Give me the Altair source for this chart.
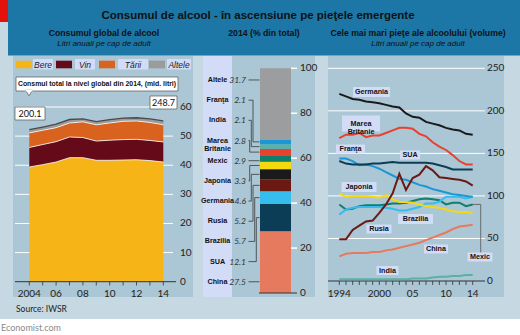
import altair as alt
import pandas as pd
import numpy as np

# ------------------------------------------------------------------ data
# Left panel: global consumption, litres per adult per year
years_global = list(range(2004, 2015))
beer    = [39.4, 40.2, 41.1, 42.6, 42.6, 41.7, 41.7, 41.8, 41.9, 41.6, 41.1]
wine    = [6.7, 6.9, 7.0, 7.1, 6.9, 6.6, 6.9, 7.0, 7.0, 6.9, 6.9]
spirits = [5.0, 4.9, 4.8, 4.8, 5.4, 5.6, 5.9, 6.3, 6.3, 6.2, 5.9]
other   = [1.1, 1.1, 1.2, 1.2, 1.0, 1.1, 1.2, 1.1, 1.1, 1.2, 1.3]
drink_names  = ["Bere", "Vin", "Tării", "Altele"]
drink_colors = ["#f6b417", "#640a18", "#d8621e", "#9b9b9b"]
total_volume_years  = [2004, 2014]
total_volume_labels = ["200.1", "248.7"]   # bn litres
left_y_ticks = [0, 10, 20, 30, 40, 50, 60]
left_x_ticks = [2004, 2006, 2008, 2010, 2012, 2014]
left_x_labels = ["2004", "06", "08", "10", "12", "14"]

# Middle panel: share of 2014 volume (%)
share_countries = ["China", "SUA", "Brazilia", "Rusia", "Germania", "Japonia",
                   "Mexic", "Marea Britanie", "India", "Franţa", "Altele"]
share_values = [27.5, 12.1, 5.7, 5.2, 4.6, 3.3, 2.9, 2.8, 2.1, 2.1, 31.7]
share_colors = ["#e57a5f", "#0b3d56", "#36bced", "#6a1a12", "#1a1a1a", "#f5d90f",
                "#0d7f6c", "#e8422e", "#5bb1a8", "#1b97d6", "#9c9d9f"]
mid_y_ticks = [0, 20, 40, 60, 80, 100]

# Right panel: largest markets, litres per adult
years_markets = list(range(1994, 2015))
market_series = {
    "India":          [2, 2, 2, 2, 2, 2, 2, 2, 2, 2, 2, 3, 3, 3, 4, 5, 5, 6, 6, 7, 7],
    "China":          [29, 32, 33, 33, 33, 34, 34, 36, 37, 39, 41, 43, 45, 48, 51, 54, 57, 61, 64, 65, 66],
    "Mexic":          [90, 84, 85, 88, 89, 89, 89, 90, 91, 91, 92, 94, 96, 97, 96, 95, 90, 92, 92, 88, 90],
    "Brazilia":       [78, 84, 86, 87, 87, 87, 87, 86, 85, 83, 83, 85, 87, 91, 91, 93, 99, 99, 99, 97, 99],
    "Japonia":        [103, 99, 100, 100, 100, 99, 98, 101, 96, 93, 93, 92, 90, 88, 87, 86, 84, 82, 81, 81, 80],
    "Franţa":         [144, 144, 141, 136, 137, 135, 132, 128, 124, 120, 119, 116, 113, 111, 108, 106, 104, 102, 101, 100, 99],
    "SUA":            [141, 138, 137, 137, 137, 138, 138, 139, 140, 139, 139, 139, 139, 139, 138, 136, 134, 131, 131, 131, 131],
    "Rusia":          [49, 49, 60, 65, 70, 71, 80, 90, 103, 126, 107, 121, 125, 135, 130, 122, 121, 120, 119, 117, 112],
    "Marea Britanie": [168, 172, 172, 174, 169, 171, 171, 174, 177, 180, 180, 179, 173, 170, 163, 158, 154, 148, 141, 137, 137],
    "Germania":       [220, 217, 214, 213, 211, 210, 209, 207, 205, 204, 197, 193, 192, 187, 185, 183, 180, 178, 177, 173, 172],
}
right_y_ticks = [0, 50, 100, 150, 200, 250]
right_x_ticks = [1994, 2000, 2005, 2010, 2014]
right_x_labels = ["1994", "2000", "05", "10", "14"]

# ------------------------------------------------------------------ style
BG, PANEL, HEADER, LAV = "#c6d8e1", "#abc6d4", "#1c77a6", "#d3dcf7"
FB = "Liberation Sans"
FN = "Lato"
ONE = pd.DataFrame({"k": [0]})

LX = alt.Scale(domain=[2004, 2014], range=[29.3, 163.3], nice=False, zero=False)
LY = alt.Scale(domain=[0, 60], range=[281.7, 107], nice=False)
MY = alt.Scale(domain=[0, 100], range=[293, 68.3], nice=False)
RX = alt.Scale(domain=[1994, 2014], range=[339.3, 472.7], nice=False, zero=False)
RY = alt.Scale(domain=[0, 250], range=[281, 68.3], nice=False)

layers = []


def rect_layer(rows, **mk):
    df = pd.DataFrame(rows, columns=["x", "x2", "y", "y2", "fill"])
    return alt.Chart(df).mark_rect(**mk).encode(
        x=alt.X("x:Q", scale=None, axis=None), x2="x2:Q",
        y=alt.Y("y:Q", scale=None, axis=None), y2="y2:Q",
        color=alt.Color("fill:N", scale=None))


def txt(text, x, y, size=8, weight="normal", style="normal", align="center",
        color="#111", font=FB, baseline="middle"):
    return alt.Chart(ONE).mark_text(
        text=text, fontSize=size, fontWeight=weight, fontStyle=style,
        align=align, baseline=baseline, color=color, font=font
    ).encode(x=alt.value(x), y=alt.value(y))


# backgrounds
layers.append(rect_layer([
    [8, 520, 0, 55.5, HEADER],
    [0, 8, 0, 22, "#e3120b"],
    [13, 193, 56, 297, PANEL],
    [203, 232, 56, 297, LAV],
    [232, 315, 56, 297, PANEL],
    [328, 504, 56, 297, PANEL],
    [0, 520, 319, 335, "#ffffff"],
]))

# header texts
layers.append(txt("Consumul de alcool - în ascensiune pe pieţele emergente", 258, 16, size=11.5, weight="bold"))
layers.append(txt("Consumul global de alcool", 104, 33, size=8.7, weight="bold"))
layers.append(txt("Litri anuali pe cap de adult", 104, 44, size=8, style="italic"))
layers.append(txt("2014 (% din total)", 264, 33, size=8.7, weight="bold"))
layers.append(txt("Cele mai mari pieţe ale alcoolului (volume)", 418, 33, size=8.7, weight="bold"))
layers.append(txt("Litri anuali pe cap de adult", 418, 44, size=8, style="italic"))

# ------------------------------------------------------------------ left panel
grid_l = pd.DataFrame({"v": left_y_ticks})
layers.append(alt.Chart(grid_l).transform_filter("datum.v > 0").mark_rule(color="white", strokeWidth=1).encode(
    x=alt.value(15), x2=alt.value(173), y=alt.Y("v:Q", scale=LY, axis=None)))

rows = []
for k, (name, vals) in enumerate(zip(drink_names, [beer, wine, spirits, other])):
    for yr, v in zip(years_global, vals):
        rows.append({"year": yr, "drink": name, "value": v, "k": k})
drink_df = pd.DataFrame(rows)

layers.append(alt.Chart(drink_df).mark_area(interpolate="linear").encode(
    x=alt.X("year:Q", scale=LX, axis=None),
    y=alt.Y("value:Q", stack="zero", scale=LY, axis=None),
    color=alt.Color("drink:N", scale=alt.Scale(domain=drink_names, range=drink_colors), legend=None),
    order=alt.Order("k:Q", sort="ascending")))

cum = alt.Chart(drink_df).transform_window(
    top="sum(value)", frame=[None, 0], groupby=["year"],
    sort=[alt.SortField("k", order="ascending")])
layers.append(cum.transform_filter("datum.k < 3").mark_line(color="white", strokeWidth=0.8).encode(
    x=alt.X("year:Q", scale=LX, axis=None), y=alt.Y("top:Q", scale=LY, axis=None), detail="drink:N"))
layers.append(cum.transform_filter("datum.k == 3").mark_line(color="#4a4a4a", strokeWidth=1.3).encode(
    x=alt.X("year:Q", scale=LX, axis=None), y=alt.Y("top:Q", scale=LY, axis=None)))

# left axis
layers.append(alt.Chart(pd.DataFrame({"v": [0]})).mark_rule(color="#333", strokeWidth=1).encode(
    x=alt.value(15), x2=alt.value(176), y=alt.Y("v:Q", scale=LY, axis=None)))
layers.append(alt.Chart(pd.DataFrame({"year": years_global})).mark_rule(color="#333", strokeWidth=0.8).encode(
    x=alt.X("year:Q", scale=LX, axis=None), y=alt.value(281.7), y2=alt.value(285.5)))
layers.append(alt.Chart(pd.DataFrame({"year": left_x_ticks, "lab": left_x_labels})).mark_text(
    fontSize=10, font=FN, color="#222", baseline="middle").encode(
    x=alt.X("year:Q", scale=LX, axis=None), y=alt.value(294), text="lab:N"))
layers.append(alt.Chart(grid_l).mark_text(fontSize=10, font=FN, color="#222", align="left", baseline="middle").encode(
    x=alt.value(180), y=alt.Y("v:Q", scale=LY, axis=None), text="v:Q"))

# legend
sw_x = [15.7, 56, 99, 149]
box_x = [(33, 53), (75, 95), (118, 148), (167, 191)]
layers.append(rect_layer([[x, x + 16, 60.7, 68.3, c] for x, c in zip(sw_x, drink_colors)]))
layers.append(rect_layer([[a, b, 59, 69.5, LAV] for a, b in box_x]))
leg_df = pd.DataFrame({"name": drink_names, "cx": [(a + b) / 2 for a, b in box_x]})
layers.append(alt.Chart(leg_df).mark_text(fontSize=8.5, font=FB, fontStyle="italic", color="#222", baseline="middle").encode(
    x=alt.X("cx:Q", scale=None, axis=None), y=alt.value(64.5), text="name:N"))

# annotation boxes
layers.append(rect_layer([[16, 178, 77, 91, "#ffffff"], [15, 45, 107, 120, "#ffffff"], [150, 177, 96, 109, "#ffffff"]],
                         stroke="#555", strokeWidth=0.7))
layers.append(alt.Chart(ONE).mark_point(shape="triangle-down", filled=True, fill="white", stroke="#555",
                                        strokeWidth=0.7, size=45, opacity=1).encode(
    x=alt.value(29), y=alt.value(93)))
layers.append(rect_layer([[25.5, 32.5, 89.5, 91.5, "#ffffff"]]))
layers.append(txt("Consmul total la nivel global din 2014, (mld. litri)", 97, 84, size=6.9, weight="bold"))
layers.append(alt.Chart(pd.DataFrame({"lab": total_volume_labels, "cx": [30, 163.5], "cy": [113.5, 102.5]})).mark_text(
    fontSize=9, font=FN, color="#111", baseline="middle").encode(
    x=alt.X("cx:Q", scale=None, axis=None), y=alt.Y("cy:Q", scale=None, axis=None), text="lab:N"))

# ------------------------------------------------------------------ middle panel
vals = np.array(share_values)
ends = np.cumsum(vals)
starts = ends - vals
lbl = 5.0 + 8.98 * np.arange(len(vals))              # label slots (layout)
mid = (starts + ends) / 2
target = np.where((lbl >= starts) & (lbl <= ends), lbl, mid)
elbow = [255, 256.3, 254.7, 253, 251.3, 249.7, 250, 249.7, 251.3, 253, 255]
disp = [c.replace("Marea Britanie", "Marea\nBritanie") for c in share_countries]

bar_df = pd.DataFrame({"country": share_countries, "start": starts, "end": ends})
layers.append(alt.Chart(bar_df).mark_rect().encode(
    x=alt.value(260), x2=alt.value(291),
    y=alt.Y("start:Q", scale=MY, axis=None), y2="end:Q",
    color=alt.Color("country:N", scale=alt.Scale(domain=share_countries, range=share_colors), legend=None)))

mt = pd.DataFrame({"v": mid_y_ticks})
layers.append(alt.Chart(mt).transform_filter("datum.v > 0").mark_rule(color="white", strokeWidth=1.5).encode(
    x=alt.value(291), x2=alt.value(297), y=alt.Y("v:Q", scale=MY, axis=None)))
layers.append(alt.Chart(mt).transform_filter("datum.v == 0").mark_rule(color="#333", strokeWidth=1).encode(
    x=alt.value(259), x2=alt.value(297), y=alt.Y("v:Q", scale=MY, axis=None)))
layers.append(alt.Chart(mt).mark_text(fontSize=10, font=FN, color="#222", align="left", baseline="middle").encode(
    x=alt.value(300), y=alt.Y("v:Q", scale=MY, axis=None), text="v:Q"))

conn = []
for i, c in enumerate(share_countries):
    pts = [(248.5, lbl[i]), (elbow[i], lbl[i]), (elbow[i], target[i]), (259.5, target[i])]
    for s, (px, py) in enumerate(pts):
        conn.append({"country": c, "step": s, "px": px, "py": py})
layers.append(alt.Chart(pd.DataFrame(conn)).mark_line(color="#3a3a3a", strokeWidth=0.8).encode(
    x=alt.X("px:Q", scale=None, axis=None), y=alt.Y("py:Q", scale=MY, axis=None),
    detail="country:N", order="step:Q"))

lab_df = pd.DataFrame({"name": disp, "lbl": lbl, "val": [f"{v:.1f}" for v in share_values]})
layers.append(alt.Chart(lab_df).mark_text(fontSize=7.2, font=FB, fontWeight="bold", color="#111",
                                          baseline="middle", lineBreak="\n", lineHeight=8.5).encode(
    x=alt.value(217.5), y=alt.Y("lbl:Q", scale=MY, axis=None), text="name:N"))
layers.append(alt.Chart(lab_df).mark_text(fontSize=8.5, font=FN, fontStyle="italic", color="#333",
                                          align="right", baseline="middle").encode(
    x=alt.value(246), y=alt.Y("lbl:Q", scale=MY, axis=None), text="val:N"))

# ------------------------------------------------------------------ right panel
rt = pd.DataFrame({"v": right_y_ticks})
layers.append(alt.Chart(rt).transform_filter("datum.v > 0").mark_rule(color="white", strokeWidth=1).encode(
    x=alt.value(328), x2=alt.value(485), y=alt.Y("v:Q", scale=RY, axis=None)))

names = list(market_series.keys())
colors_map = {"India": "#5bb1a8", "China": "#e57a5f", "Mexic": "#0d7f6c", "Brazilia": "#36bced",
              "Japonia": "#f5d90f", "Franţa": "#1b97d6", "SUA": "#0b3d56", "Rusia": "#6a1a12",
              "Marea Britanie": "#e8422e", "Germania": "#1a1a1a"}
mrows = []
for n in names:
    for yr, v in zip(years_markets, market_series[n]):
        mrows.append({"country": n, "year": yr, "value": v})
mk_df = pd.DataFrame(mrows)

layers.append(alt.Chart(pd.DataFrame({"v": [0]})).mark_rule(color="#333", strokeWidth=1).encode(
    x=alt.value(328), x2=alt.value(485), y=alt.Y("v:Q", scale=RY, axis=None)))
layers.append(alt.Chart(pd.DataFrame({"year": years_markets})).mark_rule(color="#333", strokeWidth=0.8).encode(
    x=alt.X("year:Q", scale=RX, axis=None), y=alt.value(281), y2=alt.value(285)))
layers.append(alt.Chart(pd.DataFrame({"year": right_x_ticks, "lab": right_x_labels})).mark_text(
    fontSize=10, font=FN, color="#222", baseline="middle").encode(
    x=alt.X("year:Q", scale=RX, axis=None), y=alt.value(294), text="lab:N"))
layers.append(alt.Chart(rt).mark_text(fontSize=10, font=FN, color="#222", align="left", baseline="middle").encode(
    x=alt.value(487), y=alt.Y("v:Q", scale=RY, axis=None), text="v:Q"))

layers.append(alt.Chart(mk_df).mark_line(strokeWidth=2).encode(
    x=alt.X("year:Q", scale=RX, axis=None),
    y=alt.Y("value:Q", scale=RY, axis=None),
    color=alt.Color("country:N", scale=alt.Scale(domain=names, range=[colors_map[n] for n in names]), legend=None)))

# Mexic connector
mex_last = pd.DataFrame({"year": [years_markets[-1]], "value": [market_series["Mexic"][-1]]})
layers.append(alt.Chart(mex_last).mark_rule(color="#555", strokeWidth=0.8).encode(
    x=alt.X("year:Q", scale=RX, axis=None), x2=alt.value(480.7), y=alt.Y("value:Q", scale=RY, axis=None)))
layers.append(alt.Chart(mex_last).mark_rule(color="#555", strokeWidth=0.8).encode(
    x=alt.value(480.7), y=alt.Y("value:Q", scale=RY, axis=None), y2=alt.value(252.7)))

# line labels (layout)
rlab = [("Germania", 371.5, 92, 37, 10), ("Marea\nBritanie", 361, 123.5, 38, 16), ("Franţa", 350.5, 149, 29, 9),
        ("SUA", 410, 155, 20, 9), ("Japonia", 359, 187, 35, 10), ("Brazilia", 415.5, 219, 35, 10),
        ("Rusia", 379, 229, 25, 9), ("China", 436, 249, 24, 9), ("Mexic", 480, 257, 25, 9),
        ("India", 387.5, 270.5, 22, 9)]
layers.append(rect_layer([[cx - w / 2, cx + w / 2, cy - h / 2, cy + h / 2, LAV] for _, cx, cy, w, h in rlab]))
layers.append(alt.Chart(pd.DataFrame({"name": [r[0] for r in rlab], "cx": [r[1] for r in rlab],
                                      "cy": [r[2] for r in rlab]})).mark_text(
    fontSize=7.2, font=FB, fontWeight="bold", color="#111", baseline="middle", lineBreak="\n", lineHeight=8).encode(
    x=alt.X("cx:Q", scale=None, axis=None), y=alt.Y("cy:Q", scale=None, axis=None), text="name:N"))

# footer
layers.append(txt("Source: IWSR", 16, 309, size=8.5, align="left", color="#222", font=FN))
layers.append(txt("Economist.com", 1, 327.5, size=9, align="left", color="#8a8a8a", font=FN))

chart = alt.layer(*layers).resolve_scale(
    x="independent", y="independent", color="independent"
).properties(
    width=520, height=335, padding=0, autosize=alt.AutoSizeParams(type="none")
).configure(background=BG).configure_view(stroke=None)

chart.save("out.html", embed_options={"renderer": "svg", "actions": False})
